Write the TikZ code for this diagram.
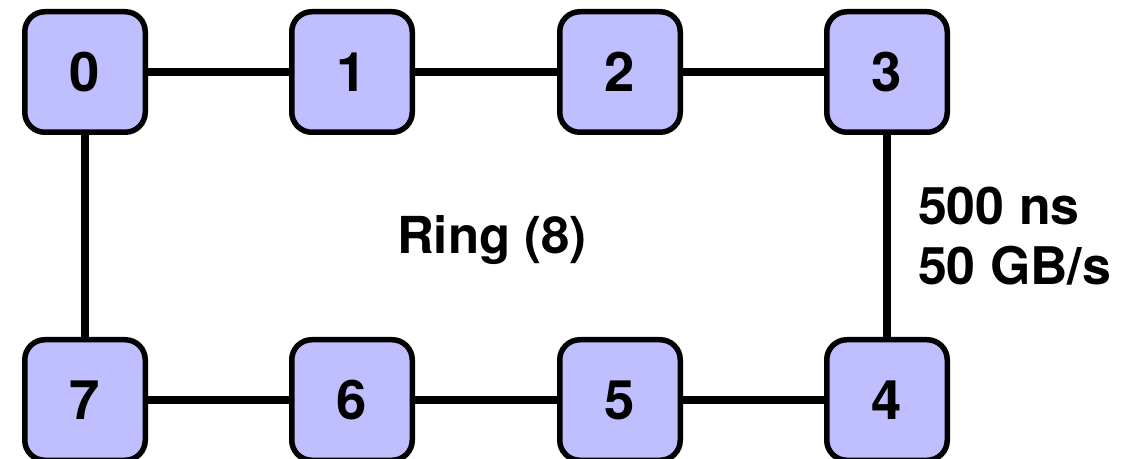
\documentclass[tikz,border=0pt]{standalone}
\usepackage{fontspec}
\setmainfont{TeX Gyre Heros}
\begin{document}
\begin{tikzpicture}[every node/.style={font=\bfseries}, gpu/.style={rectangle, rounded corners=0.4cm, draw, line width=0.11cm, fill=blue!25, minimum size=2.41cm, font=\fontsize{31}{36}\selectfont\bfseries}, link/.style={line width=0.17cm}]
        \useasboundingbox (0, 0) rectangle (22.66, 9.18);
        \node[gpu] (0) at (1.70, 7.74) {0};
        \node[gpu] (1) at (7.04, 7.74) {1};
        \node[gpu] (2) at (12.40, 7.74) {2};
        \node[gpu] (3) at (17.74, 7.74) {3};
        \node[gpu] (4) at (17.74, 1.18) {4};
        \node[gpu] (5) at (12.40, 1.18) {5};
        \node[gpu] (6) at (7.04, 1.18) {6};
        \node[gpu] (7) at (1.70, 1.18) {7};
        \draw[link] (0) -- (1);
        \draw[link] (1) -- (2);
        \draw[link] (2) -- (3);
        \draw[link] (3) -- node[right=0.42cm, align=left, font=\fontsize{29.5}{34}\selectfont\bfseries] (bw) {500 ns\\50 GB/s} (4);
        \draw[link] (4) -- (5);
        \draw[link] (5) -- (6);
        \draw[link] (6) -- (7);
        \draw[link] (7) -- (0);
        \node[font=\fontsize{29}{34}\selectfont\bfseries] (ring) at (9.84, 4.38) {Ring (8)};
    \end{tikzpicture}
\end{document}
